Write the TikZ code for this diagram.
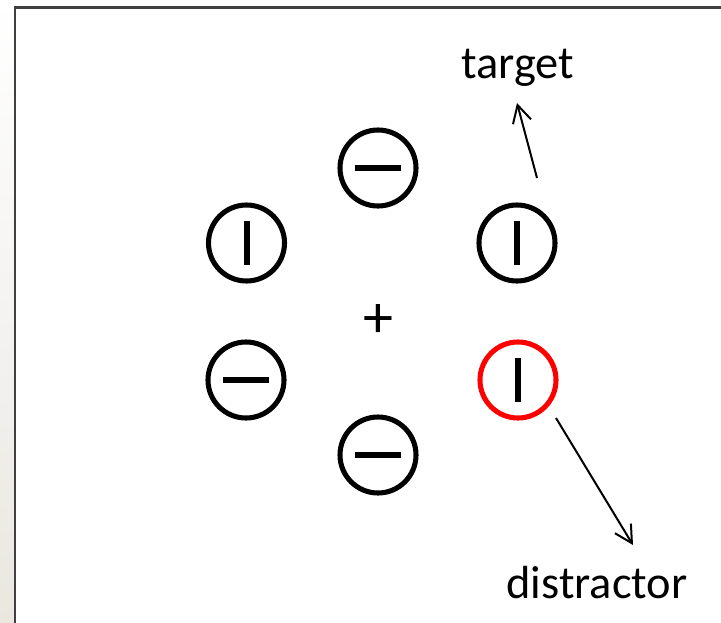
\documentclass[tikz,border=0pt]{standalone}
\usepackage{fontspec}
\setmainfont{Carlito}
\usetikzlibrary{arrows.meta}
\definecolor{framegray}{HTML}{404040}
\definecolor{stripbot}{HTML}{EAE7E1}
\tikzset{
  ring/.style={circle, draw, line width=3.8pt, minimum size=57pt, inner sep=0pt},
  vring/.style={ring, path picture={
      \draw[black, line width=4.5pt] ([yshift=16.5pt]path picture bounding box.center)
        -- ([yshift=-16.5pt]path picture bounding box.center);}},
  hring/.style={ring, path picture={
      \draw[black, line width=4.5pt] ([xshift=-17pt]path picture bounding box.center)
        -- ([xshift=17pt]path picture bounding box.center);}},
  label/.style={font=\fontsize{34.8pt}{40pt}\selectfont, inner sep=0pt},
  pointer/.style={line width=1.5pt, -{Straight Barb[length=13pt, width=14pt, line width=1.5pt]}}
}
\begin{document}
\begin{tikzpicture}[x=0.75pt, y=-0.75pt]
  \useasboundingbox (0,0) rectangle (721,622);
  % side strip and frame
  \shade[top color=white, bottom color=stripbot] (0,0) rectangle (15,622);
  \fill[white] (15,7) rectangle (721,622);
  \draw[framegray, line width=2pt] (15,640) -- (15,7.5) -- (740,7.5);

  % ring array around the fixation cross
  \node[hring] (top) at (378,168) {};
  \node[vring] (ul) at (246.5,243) {};
  \node[vring] (ur) at (517,243) {};
  \node[hring] (ll) at (246,380) {};
  \node[vring, draw=red] (lr) at (518,380) {};
  \node[hring] (bot) at (378,455) {};
  \node[font=\fontsize{45pt}{50pt}\selectfont, inner sep=0pt] (fix) at (378,321) {+};

  % labels and pointers
  \node[label, anchor=base] (target) at (518,78) {target};
  \node[label, anchor=base] (distractor) at (597,598) {distractor};
  \coordinate (tstart) at (537,178);
  \coordinate (ttip) at (517,103);
  \coordinate (dstart) at (556,418);
  \coordinate (dtip) at (633,545);
  \draw[pointer] (tstart) -- (ttip);
  \draw[pointer] (dstart) -- (dtip);
\end{tikzpicture}
\end{document}
